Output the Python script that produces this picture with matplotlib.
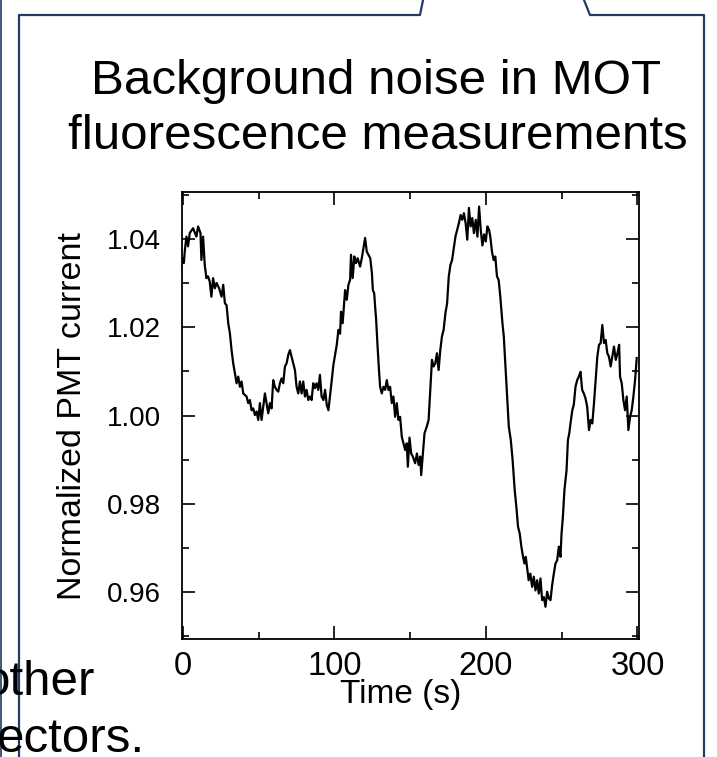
import matplotlib
matplotlib.use("Agg")
import matplotlib.pyplot as plt
from matplotlib.lines import Line2D
from matplotlib.ticker import MultipleLocator

plt.rcParams['font.family'] = ['Liberation Sans', 'DejaVu Sans']

# ---- data ----
time_s = [0.3, 0.7, 1.3, 2.4, 3.5, 4.6, 6.8, 9.0, 10.1, 11.7, 12.3, 13.4, 14.5, 15.6, 16.7,
          17.8, 18.9, 20.0, 21.2, 22.3, 24.0, 25.6, 26.7, 27.8, 28.9, 30.0, 31.1, 32.2, 33.3,
          34.4, 35.5, 36.6, 37.7, 38.8, 39.9, 42.1, 43.2, 44.3, 45.4, 46.5, 47.6, 48.7, 49.8,
          50.9, 52.0, 53.1, 54.2, 55.3, 56.4, 57.5, 58.6, 59.7, 60.8, 61.9, 63.0, 64.1, 65.2,
          66.3, 67.4, 68.5, 69.6, 70.7, 71.8, 72.9, 74.0, 75.1, 76.2, 77.3, 78.4, 79.5, 80.6,
          81.7, 82.8, 83.9, 85.0, 86.1, 87.2, 88.3, 89.4, 90.5, 91.6, 92.8, 93.9, 95.0, 96.1,
          97.2, 98.3, 99.4, 100.5, 101.6, 102.7, 103.8, 104.4, 105.5, 107.1, 108.2, 109.3,
          110.4, 111.0, 112.1, 113.2, 114.3, 115.4, 117.0, 118.1, 119.2, 120.3, 121.4, 122.5,
          123.7, 124.8, 125.4, 126.3, 126.9, 127.6, 128.4, 129.3, 130.2, 131.3, 132.4, 133.5,
          134.6, 135.7, 136.8, 137.9, 139.0, 140.1, 141.2, 142.3, 143.4, 144.5, 145.6, 146.7,
          147.8, 148.5, 149.6, 150.7, 151.8, 153.3, 154.5, 155.6, 156.7, 157.3, 158.4, 159.5,
          161.0, 162.2, 163.3, 164.4, 165.5, 166.6, 167.7, 168.8, 169.9, 171.0, 172.1, 173.3,
          174.4, 175.5, 176.6, 177.7, 178.8, 179.9, 181.0, 182.2, 183.3, 184.4, 185.5, 186.6,
          187.7, 188.8, 189.9, 191.0, 192.1, 193.3, 194.4, 195.5, 196.6, 197.7, 198.8, 199.9,
          201.0, 202.1, 202.9, 204.0, 205.1, 206.2, 207.3, 208.4, 209.5, 210.0, 210.9, 211.8,
          212.8, 214.0, 215.1, 216.4, 217.6, 219.0, 220.1, 221.2, 222.3, 223.4, 224.5, 225.4,
          226.3, 227.1, 228.2, 229.3, 230.5, 231.6, 232.7, 233.8, 234.9, 236.0, 237.1, 238.2,
          239.3, 240.4, 241.5, 242.6, 243.7, 244.8, 245.9, 247.0, 248.1, 249.2, 249.9, 250.8,
          251.8, 253.2, 254.1, 255.0, 255.8, 256.9, 258.0, 259.1, 260.2, 261.3, 262.4, 263.5,
          264.6, 265.7, 266.8, 268.0, 269.1, 270.2, 271.3, 272.4, 273.5, 274.6, 275.7, 276.8,
          277.9, 279.0, 280.1, 281.2, 282.3, 283.4, 284.5, 285.7, 286.8, 287.9, 288.5, 289.6,
          290.7, 291.8, 292.9, 294.0, 295.1, 296.2, 297.3, 298.4, 299.5]

pmt_current = [1.0355, 1.0345, 1.0371, 1.0405, 1.0383, 1.0413, 1.0424, 1.0405, 1.0428, 1.0413,
               1.0352, 1.0405, 1.0341, 1.0311, 1.0315, 1.0303, 1.0269, 1.0311, 1.0288, 1.0300,
               1.0288, 1.0269, 1.0296, 1.0254, 1.0250, 1.0209, 1.0186, 1.0148, 1.0118, 1.0096,
               1.0073, 1.0088, 1.0065, 1.0077, 1.0050, 1.0043, 1.0028, 1.0035, 1.0012, 1.0016,
               1.0001, 1.0009, 0.9990, 1.0028, 0.9990, 1.0020, 1.0050, 1.0028, 1.0005, 1.0028,
               1.0016, 1.0080, 1.0065, 1.0058, 1.0054, 1.0073, 1.0084, 1.0073, 1.0111, 1.0118,
               1.0137, 1.0148, 1.0133, 1.0118, 1.0103, 1.0065, 1.0050, 1.0077, 1.0050, 1.0077,
               1.0043, 1.0058, 1.0035, 1.0043, 1.0035, 1.0073, 1.0062, 1.0073, 1.0058, 1.0092,
               1.0043, 1.0035, 1.0058, 1.0024, 1.0012, 1.0045, 1.0080, 1.0115, 1.0137, 1.0160,
               1.0194, 1.0185, 1.0235, 1.0209, 1.0284, 1.0262, 1.0296, 1.0307, 1.0364, 1.0311,
               1.0360, 1.0345, 1.0356, 1.0337, 1.0356, 1.0379, 1.0402, 1.0371, 1.0364, 1.0356,
               1.0322, 1.0284, 1.0277, 1.0247, 1.0216, 1.0164, 1.0111, 1.0065, 1.0050, 1.0065,
               1.0058, 1.0080, 1.0058, 1.0065, 1.0028, 1.0043, 0.9997, 1.0028, 0.9990, 0.9997,
               0.9952, 0.9937, 0.9922, 0.9937, 0.9884, 0.9950, 0.9914, 0.9907, 0.9892, 0.9914,
               0.9888, 0.9907, 0.9865, 0.9914, 0.9960, 0.9975, 0.9990, 1.0058, 1.0126, 1.0111,
               1.0118, 1.0141, 1.0103, 1.0148, 1.0179, 1.0194, 1.0232, 1.0254, 1.0315, 1.0341,
               1.0352, 1.0379, 1.0405, 1.0420, 1.0436, 1.0454, 1.0443, 1.0458, 1.0436, 1.0398,
               1.0470, 1.0428, 1.0447, 1.0413, 1.0443, 1.0405, 1.0473, 1.0420, 1.0385, 1.0410,
               1.0394, 1.0428, 1.0420, 1.0405, 1.0371, 1.0352, 1.0360, 1.0315, 1.0307, 1.0269,
               1.0247, 1.0209, 1.0179, 1.0118, 1.0043, 0.9975, 0.9945, 0.9900, 0.9831, 0.9793,
               0.9748, 0.9733, 0.9703, 0.9680, 0.9665, 0.9680, 0.9657, 0.9627, 0.9642, 0.9612,
               0.9635, 0.9604, 0.9627, 0.9597, 0.9631, 0.9582, 0.9589, 0.9567, 0.9601, 0.9586,
               0.9582, 0.9616, 0.9642, 0.9665, 0.9672, 0.9703, 0.9680, 0.9733, 0.9771, 0.9831,
               0.9876, 0.9944, 0.9960, 0.9982, 1.0010, 1.0025, 1.0065, 1.0080, 1.0088, 1.0099,
               1.0058, 1.0050, 1.0039, 1.0020, 0.9967, 0.9990, 0.9982, 1.0028, 1.0080, 1.0133,
               1.0160, 1.0164, 1.0205, 1.0164, 1.0171, 1.0141, 1.0133, 1.0111, 1.0133, 1.0156,
               1.0126, 1.0141, 1.0160, 1.0088, 1.0073, 1.0035, 1.0012, 1.0043, 0.9967, 0.9997,
               1.0012, 1.0043, 1.0080, 1.0130]

x_ticks = [0, 100, 200, 300]
y_ticks = [0.96, 0.98, 1.00, 1.02, 1.04]
title_lines = ["Background noise in MOT", "fluorescence measurements"]
x_label = "Time (s)"
y_label = "Normalized PMT current"

# ---- figure ----
W, H = 717, 757
fig = plt.figure(figsize=(W / 100, H / 100), dpi=100)
fig.patch.set_facecolor('white')

def fx(px):
    return px / W

def fy(py):
    return 1 - py / H

# slide callout border
border_color = '#233a61'
bx = [19, 19, 420, 423]
by = [757, 15, 15, 0]
fig.add_artist(Line2D([fx(v) for v in bx], [fy(v) for v in by], color=border_color, lw=1.6))
bx2 = [584, 590, 704, 704]
by2 = [0, 15, 15, 757]
fig.add_artist(Line2D([fx(v) for v in bx2], [fy(v) for v in by2], color=border_color, lw=1.6))
fig.add_artist(Line2D([fx(1), fx(1)], [0, 1], color=border_color, lw=1.2))

# title
fig.text(fx(376), fy(94), title_lines[0], ha='center', va='baseline', fontsize=35.5, color='black')
fig.text(fx(378), fy(149), title_lines[1], ha='center', va='baseline', fontsize=35.5, color='black')

# clipped slide text behind
fig.text(fx(95), fy(695), "other", ha='right', va='baseline', fontsize=35.5, color='black')
fig.text(fx(145), fy(752), "ectors.", ha='right', va='baseline', fontsize=35.5, color='black')

# axes
ax = fig.add_axes([fx(182), fy(639), (639 - 182) / W, (639 - 192) / H])
ax.plot(time_s, pmt_current, color='black', lw=1.6)
ax.set_xlim(-0.5, 301)
ax.set_ylim(0.9494, 1.0506)
ax.set_xticks(x_ticks)
ax.set_xticklabels([str(v) for v in x_ticks])
ax.set_yticks(y_ticks)
ax.set_yticklabels([f"{v:.2f}" for v in y_ticks])
ax.xaxis.set_minor_locator(MultipleLocator(50))
ax.yaxis.set_minor_locator(MultipleLocator(0.01))
ax.tick_params(which='both', direction='in', top=True, right=True, width=1.2, color='black')
ax.tick_params(which='major', length=9.5)
ax.tick_params(which='minor', length=5)
ax.tick_params(axis='x', which='major', labelsize=23.5, pad=8.5)
ax.tick_params(axis='y', which='major', labelsize=20, pad=15)
for s in ax.spines.values():
    s.set_linewidth(1.3)
ax.set_xlabel(x_label, fontsize=24)
ax.xaxis.set_label_coords((401 - 182) / 457, -0.09)
ax.set_ylabel(y_label, fontsize=24.5)
ax.yaxis.set_label_coords(-0.205, 0.5)

fig.savefig("out.png", dpi=100)
